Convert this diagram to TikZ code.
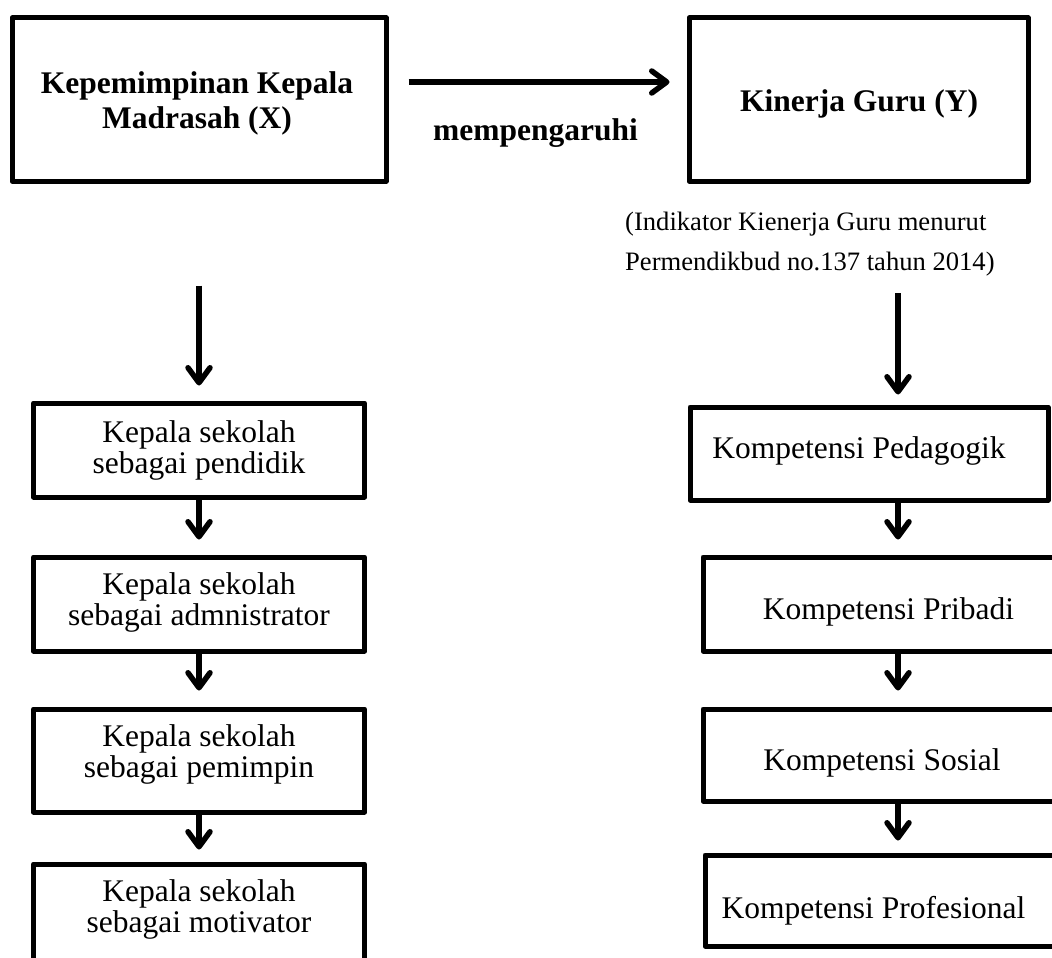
\documentclass[tikz,border=0pt]{standalone}
\usepackage{fontspec}
\setmainfont{Liberation Serif}
\usetikzlibrary{arrows.meta}
\begin{document}
\begin{tikzpicture}[x=1pt,y=-1pt,
  box/.style={draw=black, line width=5pt, line join=round, inner sep=0pt},
  txt/.style={inner sep=0pt, align=center, font=\fontsize{31.5}{31}\selectfont},
  btxt/.style={inner sep=0pt, align=center, font=\fontsize{31.5}{35}\selectfont\bfseries},
  note/.style={inner sep=0pt, align=left, font=\fontsize{26.6}{40}\selectfont},
  arr/.style={line width=5.5pt, -{Straight Barb[length=15pt,width=22pt,line width=5.5pt,line cap=round,line join=round]}}
]
\useasboundingbox (0,0) rectangle (1052,958);
\clip (0,0) rectangle (1052,958);
% top boxes
\node[box, minimum width=374pt, minimum height=163pt] (X) at (199,99.5) {};
\node[box, minimum width=339pt, minimum height=163pt] (Y) at (858.5,99.5) {};
\node[btxt] (Xt) at (197,103) {Kepemimpinan Kepala\\Madrasah (X)};
\node[btxt] (Yt) at (859,104) {Kinerja Guru (Y)};
\node[btxt] (mp) at (535.5,132.7) {mempengaruhi};
\node[note, anchor=north west] (nt) at (625,212) {(Indikator Kienerja Guru menurut\\Permendikbud no.137 tahun 2014)};
% left column
\node[box, minimum width=331pt, minimum height=94pt] (L1) at (199,450) {};
\node[box, minimum width=331pt, minimum height=94pt] (L2) at (199,604) {};
\node[box, minimum width=331pt, minimum height=103pt] (L3) at (199,760.5) {};
\node[box, minimum width=331pt, minimum height=111pt] (L4) at (199,919.5) {};
\node[txt] (L1t) at (199,450) {Kepala sekolah\\sebagai pendidik};
\node[txt] (L2t) at (199,602) {Kepala sekolah\\sebagai admnistrator};
\node[txt] (L3t) at (199,754) {Kepala sekolah\\sebagai pemimpin};
\node[txt] (L4t) at (199,909) {Kepala sekolah\\sebagai motivator};
% right column
\node[box, minimum width=358pt, minimum height=93pt] (R1) at (869,453.5) {};
\node[box, minimum width=362pt, minimum height=94pt] (R2) at (884,604) {};
\node[box, minimum width=362pt, minimum height=92pt] (R3) at (884,755) {};
\node[box, minimum width=360pt, minimum height=91pt] (R4) at (885,900.5) {};
\node[txt] (R1t) at (859,451) {Kompetensi Pedagogik};
\node[txt] (R2t) at (888.5,612) {Kompetensi Pribadi};
\node[txt] (R3t) at (882,762.7) {Kompetensi Sosial};
\node[txt] (R4t) at (873.5,911) {Kompetensi Profesional};
% connectors
\draw[arr, shorten <=20pt, shorten >=17pt] ([yshift=17.5pt]X.east) -- ([yshift=17.5pt]Y.west);
\draw[arr, shorten <=102pt, shorten >=15pt] (X.south) -- (L1.north);
\draw[arr, shorten >=15pt] (L1.south) -- (L2.north);
\draw[arr, shorten >=16pt] (L2.south) -- (L3.north);
\draw[arr, shorten >=12pt] (L3.south) -- (L4.north);
\coordinate (ra) at (898,293);
\draw[arr, shorten >=10pt] (ra) -- (ra |- R1.north);
\draw[arr, shorten >=15pt] (R1.south -| ra) -- (R2.north -| ra);
\draw[arr, shorten >=16pt] (R2.south -| ra) -- (R3.north -| ra);
\draw[arr, shorten >=12pt] (R3.south -| ra) -- (R4.north -| ra);
\end{tikzpicture}
\end{document}
